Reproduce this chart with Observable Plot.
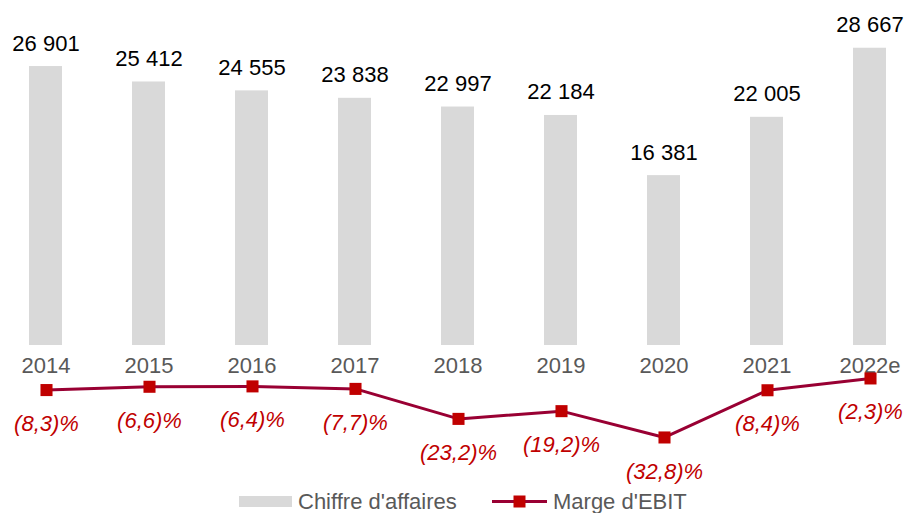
<!DOCTYPE html>
<html>
<head>
<meta charset="utf-8">
<script src="https://cdn.jsdelivr.net/npm/d3@7"></script>
<script src="https://cdn.jsdelivr.net/npm/@observablehq/plot@0.6"></script>
<style>
  body { margin: 0; background: #fff; }
  #wrap { position: relative; width: 905px; height: 513px; font-family: "Liberation Sans", Arial, sans-serif; }
  #wrap > svg, #wrap > div { position: absolute; left: 0; top: 0; }
</style>
</head>
<body>
<div id="wrap"></div>
<script>
const years = ["2014", "2015", "2016", "2017", "2018", "2019", "2020", "2021", "2022e"];
const revenue = [26901, 25412, 24555, 23838, 22997, 22184, 16381, 22005, 28667];
const ebitMargin = [-8.3, -6.6, -6.4, -7.7, -23.2, -19.2, -32.8, -8.4, -2.3];
const seriesNames = ["Chiffre d'affaires", "Marge d'EBIT"];

const data = years.map((y, i) => ({year: y, revenue: revenue[i], margin: ebitMargin[i]}));
const fmtRev = v => d3.format(",")(v).replace(/,/g, " ");
const fmtPct = v => "(" + Math.abs(v).toFixed(1).replace(".", ",") + ")%";

const xScale = {domain: years, range: [-6.5, 921.5], paddingInner: 0.68, paddingOuter: 0.34, align: 0.5};
const font = "Liberation Sans, Arial, sans-serif";

const barPlot = Plot.plot({
  width: 905, height: 380,
  marginBottom: 35, marginTop: 0, marginLeft: 0, marginRight: 0,
  style: {fontFamily: font, fontSize: "22px", background: "transparent", overflow: "visible"},
  x: {...xScale, label: null},
  y: {domain: [0, 30000], range: [345, 33.9], axis: null},
  marks: [
    Plot.barY(data, {x: "year", y: "revenue", fill: "#d9d9d9"}),
    Plot.text(data, {x: "year", y: "revenue", text: d => fmtRev(d.revenue), lineAnchor: "bottom", dy: -16, fill: "#000", fontSize: 22}),
    Plot.axisX({tickSize: 0, tickPadding: 12, fontSize: 22, color: "#595959", label: null})
  ]
});

const linePlot = Plot.plot({
  width: 905, height: 485,
  marginTop: 0, marginBottom: 0, marginLeft: 0, marginRight: 0,
  style: {fontFamily: font, fontSize: "22px", background: "transparent", overflow: "visible"},
  x: {...xScale, axis: null},
  y: {domain: [-40, 0], range: [450.9, 373.5], axis: null},
  marks: [
    Plot.line(data, {x: "year", y: "margin", stroke: "#990033", strokeWidth: 3}),
    Plot.dot(data, {x: "year", y: "margin", symbol: "square", r: 6.8, fill: "#c00000", stroke: "none"}),
    Plot.text(data, {x: "year", y: "margin", text: d => fmtPct(d.margin), dy: 34, fill: "#c00000", fontStyle: "italic", fontSize: 22})
  ]
});

const wrap = document.getElementById("wrap");
wrap.appendChild(barPlot);
wrap.appendChild(linePlot);

// Legend
const legend = document.createElementNS("http://www.w3.org/2000/svg", "svg");
legend.setAttribute("width", 905);
legend.setAttribute("height", 513);
legend.style.position = "absolute"; legend.style.left = "0"; legend.style.top = "0";
legend.innerHTML = `
  <rect x="239" y="496" width="53" height="11" fill="#d9d9d9"></rect>
  <text x="298" y="509" font-family="${font}" font-size="22" fill="#595959">${seriesNames[0]}</text>
  <line x1="492" x2="547" y1="501.5" y2="501.5" stroke="#990033" stroke-width="3"></line>
  <rect x="513.5" y="495.5" width="12" height="12" fill="#c00000"></rect>
  <text x="553" y="509" font-family="${font}" font-size="22" fill="#595959">${seriesNames[1]}</text>`;
wrap.appendChild(legend);
</script>
</body>
</html>
